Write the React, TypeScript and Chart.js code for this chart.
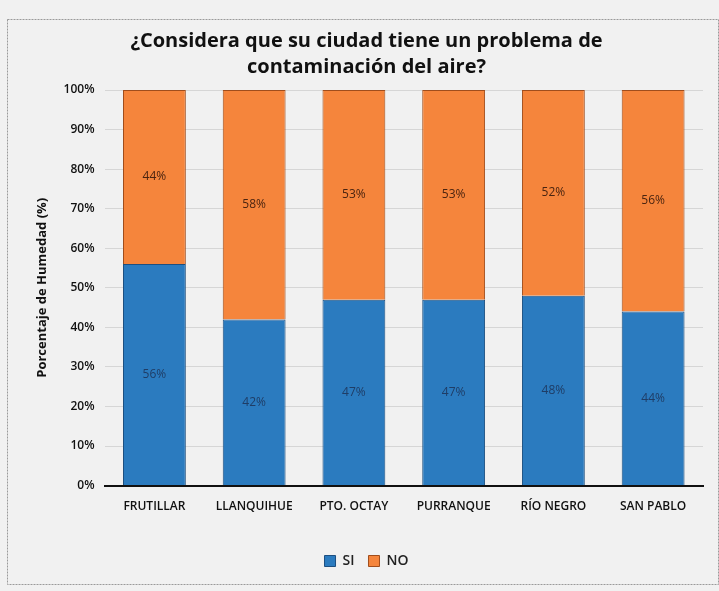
import React, { useEffect, useRef } from "react";
import { Chart, registerables } from "chart.js";

Chart.register(...registerables);

const categories = ["FRUTILLAR", "LLANQUIHUE", "PTO. OCTAY", "PURRANQUE", "RÍO NEGRO", "SAN PABLO"];
const siValues = [56, 42, 47, 47, 48, 44];
const noValues = [44, 58, 53, 53, 52, 56];
const yTicks = [0, 10, 20, 30, 40, 50, 60, 70, 80, 90, 100];

const FONT = "'Open Sans', 'Noto Sans', sans-serif";

const bgPlugin = {
  id: "bgFrame",
  beforeDraw(chart: any) {
    const ctx = chart.ctx;
    ctx.save();
    ctx.fillStyle = "#f1f1f1";
    ctx.fillRect(0, 0, chart.width, chart.height);
    ctx.strokeStyle = "#9a9a9a";
    ctx.lineWidth = 1;
    ctx.setLineDash([2, 1]);
    ctx.strokeRect(7.5, 19.5, chart.width - 8, chart.height - 26);
    ctx.restore();
  },
};

const labelPlugin = {
  id: "segLabels",
  afterDatasetsDraw(chart: any) {
    const ctx = chart.ctx;
    ctx.save();
    ctx.font = `12px ${FONT}`;
    ctx.textAlign = "center";
    ctx.textBaseline = "middle";
    chart.data.datasets.forEach((ds: any, i: number) => {
      const meta = chart.getDatasetMeta(i);
      meta.data.forEach((bar: any, j: number) => {
        const y = (bar.y + bar.base) / 2;
        ctx.fillStyle = i === 0 ? "#1f3d66" : "#4a2410";
        ctx.fillText(ds.data[j] + "%", bar.x, y);
      });
    });
    ctx.restore();
  },
};

export default function App() {
  const ref = useRef<HTMLCanvasElement>(null);
  useEffect(() => {
    document.body.style.margin = "0";
    const chart = new Chart(ref.current!, {
      type: "bar",
      data: {
        labels: categories,
        datasets: [
          {
            label: "SI",
            data: siValues,
            backgroundColor: "#2b7bbf",
            borderColor: "#1d4f80",
            borderWidth: 1,
            barPercentage: 0.63,
            categoryPercentage: 1,
          },
          {
            label: "NO",
            data: noValues,
            backgroundColor: "#f5853c",
            borderColor: "#a04d1c",
            borderWidth: 1,
            barPercentage: 0.63,
            categoryPercentage: 1,
          },
        ],
      },
      options: {
        animation: false,
        responsive: false,
        layout: { padding: { left: 30, right: 16, top: 28, bottom: 13 } },
        plugins: {
          title: {
            display: true,
            text: ["¿Considera que su ciudad tiene un problema de", "contaminación del aire?"],
            color: "#111",
            font: { family: FONT, size: 20, weight: "bold", lineHeight: 1.3 },
            padding: { top: 0, bottom: 10 },
          },
          legend: {
            position: "bottom",
            labels: {
              color: "#222",
              font: { family: FONT, size: 14, weight: 600 },
              boxWidth: 11,
              boxHeight: 11,
              padding: 14,
            },
          },
          tooltip: { enabled: false },
        },
        scales: {
          x: {
            stacked: true,
            grid: { display: false },
            border: { color: "#111", width: 2 },
            ticks: { color: "#111", font: { family: FONT, size: 12, weight: 600 }, padding: 6 },
            afterFit: (axis: any) => {
              axis.height += 20;
            },
          },
          y: {
            stacked: true,
            min: 0,
            max: 100,
            afterBuildTicks: (axis: any) => {
              axis.ticks = yTicks.map((v) => ({ value: v }));
            },
            grid: { color: "#d6d6d6", drawTicks: false },
            border: { display: false },
            ticks: {
              color: "#111",
              font: { family: FONT, size: 12, weight: 600 },
              padding: 10,
              callback: (v: any) => v + "%",
            },
            title: {
              display: true,
              text: "Porcentaje de Humedad (%)",
              color: "#111",
              font: { family: FONT, size: 13, weight: "bold" },
              padding: { bottom: 4 },
            },
          },
        },
      },
      plugins: [bgPlugin, labelPlugin],
    });
    return () => chart.destroy();
  }, []);
  return (
    <div style={{ width: 719, height: 591 }}>
      <canvas ref={ref} width={719} height={591} />
    </div>
  );
}
